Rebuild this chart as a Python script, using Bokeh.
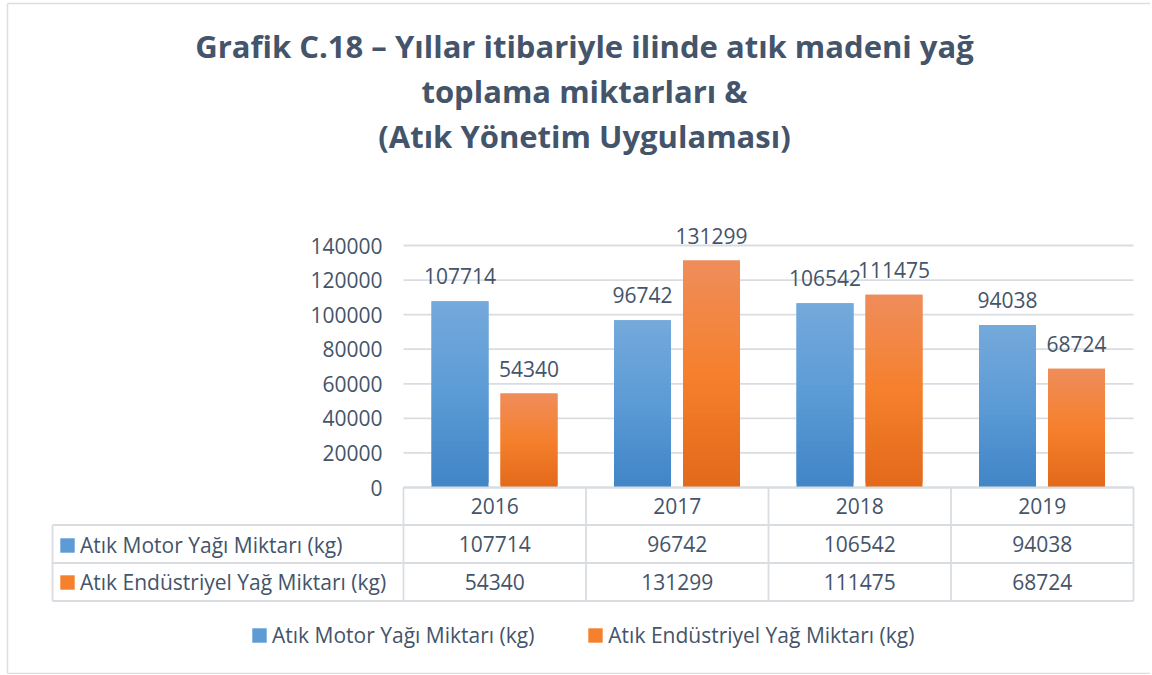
from bokeh.plotting import figure
from bokeh.models import Range1d, ColumnDataSource, Legend, LegendItem
from bokeh.core.properties import value
from bokeh.embed import file_html
from bokeh.resources import INLINE

# ---------------- data ----------------
title_lines = [
    "Grafik C.18 – Yıllar itibariyle ilinde atık madeni yağ",
    "toplama miktarları &",
    "(Atık Yönetim Uygulaması)",
]
years = ["2016", "2017", "2018", "2019"]
series_names = ["Atık Motor Yağı Miktarı (kg)", "Atık Endüstriyel Yağ Miktarı (kg)"]
motor_oil = [107714, 96742, 106542, 94038]
industrial_oil = [54340, 131299, 111475, 68724]
y_ticks = [0, 20000, 40000, 60000, 80000, 100000, 120000, 140000]
y_tick_labels = ["0", "20000", "40000", "60000", "80000", "100000", "120000", "140000"]

# ---------------- layout (page pixels) ----------------
W, H = 1150, 674
OX, OY = 0, 0
PLOT_L, PLOT_R = 403, 1133
PLOT_B, PLOT_T = 487, 245
Y_TOP = 140000
TABLE_L = 52
ROW_EDGES = [487, 524.5, 562.5, 600.5]
TITLE_X = 584
TITLE_CENTERS = [45.5, 90.5, 135]

TXT = "#44546A"
GRID = "#d9dde2"
FONT = value("Open Sans")
FS = "21px"

BLUE = ["#4185c7", "#5b9bd5", "#75a9dc"]     # bottom, middle, top
ORANGE = ["#e2691a", "#f5802c", "#ef8d5b"]

n = len(years)
unit = (PLOT_R - PLOT_L) / n
BAR_W = 57 / unit
BAR_OFF = [28 / unit, 97 / unit]

ppv = (PLOT_B - PLOT_T) / Y_TOP
x_start = (OX - PLOT_L) / unit
x_end = (OX + W - PLOT_L) / unit
y_start = -(OY + H - PLOT_B) / ppv
y_end = (PLOT_B - OY) / ppv

p = figure(width=W, height=H,
           x_range=Range1d(x_start, x_end), y_range=Range1d(y_start, y_end),
           output_backend="svg", toolbar_location=None,
           x_axis_location=None, y_axis_location=None, min_border=0)
p.extra_x_ranges = {"px": Range1d(OX, OX + W)}
p.extra_y_ranges = {"px": Range1d(OY + H, OY)}
p.grid.visible = False
p.outline_line_color = None
p.background_fill_color = "white"
p.border_fill_color = "white"

# outer chart border
p.segment(x0=[7, 7, 7], y0=[3, 3, 673],
          x1=[7, OX + W, OX + W], y1=[673, 3, 673],
          x_range_name="px", y_range_name="px", line_color="#dadee3", line_width=1.5)

# title
p.text(x=[TITLE_X] * len(title_lines), y=TITLE_CENTERS, text=title_lines,
       x_range_name="px", y_range_name="px",
       text_font=FONT, text_font_style="bold", text_font_size="31px",
       text_color=TXT, text_align="center", text_baseline="middle")

# gridlines
p.segment(x0=[0] * len(y_ticks), x1=[n] * len(y_ticks), y0=y_ticks, y1=y_ticks,
          line_color=GRID, line_width=1.8)

# y tick labels
p.text(x=[PLOT_L - 21] * len(y_ticks), y=y_ticks, text=y_tick_labels,
       x_range_name="px", text_font=FONT, text_font_size=FS, text_color=TXT,
       text_align="right", text_baseline="middle")


def mix(c1, c2, t):
    a = [int(c1[i:i + 2], 16) for i in (1, 3, 5)]
    b = [int(c2[i:i + 2], 16) for i in (1, 3, 5)]
    return "#%02x%02x%02x" % tuple(round(a[j] + (b[j] - a[j]) * t) for j in range(3))


def grad(stops, t):
    if t < 0.5:
        return mix(stops[0], stops[1], t / 0.5)
    return mix(stops[1], stops[2], (t - 0.5) / 0.5)


K = 40
renderers = []
for s, (vals, stops) in enumerate([(motor_oil, BLUE), (industrial_oil, ORANGE)]):
    d = dict(left=[], right=[], bottom=[], top=[], color=[])
    for i, v in enumerate(vals):
        for k in range(K):
            d["left"].append(i + BAR_OFF[s])
            d["right"].append(i + BAR_OFF[s] + BAR_W)
            d["bottom"].append(v * k / K)
            d["top"].append(v * min(k + 2, K) / K)
            d["color"].append(grad(stops, (k + 0.5) / K))
    r = p.quad(left="left", right="right", bottom="bottom", top="top",
               fill_color="color", line_color=None, source=ColumnDataSource(d))
    renderers.append(r)
    # data labels
    p.text(x=[i + BAR_OFF[s] + BAR_W / 2 for i in range(n)], y=vals,
           text=[str(v) for v in vals], text_font=FONT, text_font_size=FS,
           text_color=TXT, text_align="center", text_baseline="middle",
           y_offset=-25)

# data table lines
p.segment(x0=[PLOT_L, TABLE_L, TABLE_L, TABLE_L],
          x1=[PLOT_R] * 4,
          y0=ROW_EDGES, y1=ROW_EDGES,
          x_range_name="px", y_range_name="px", line_color=GRID, line_width=1.8)
p.segment(x0=list(range(n + 1)), x1=list(range(n + 1)),
          y0=[ROW_EDGES[0]] * (n + 1), y1=[ROW_EDGES[-1]] * (n + 1),
          y_range_name="px", line_color=GRID, line_width=1.8)
p.segment(x0=[TABLE_L], x1=[TABLE_L], y0=[ROW_EDGES[1]], y1=[ROW_EDGES[-1]],
          x_range_name="px", y_range_name="px", line_color=GRID, line_width=1.8)

# data table cell texts
rows = [years, [str(v) for v in motor_oil], [str(v) for v in industrial_oil]]
for ri, row in enumerate(rows):
    yc = (ROW_EDGES[ri] + ROW_EDGES[ri + 1]) / 2
    p.text(x=[i + 0.5 for i in range(n)], y=[yc] * n, text=row,
           y_range_name="px", text_font=FONT, text_font_size=FS, text_color=TXT,
           text_align="center", text_baseline="middle")

legend_style = dict(border_line_color=None, background_fill_alpha=0, padding=0, margin=0,
                    label_text_font="Open Sans", label_text_font_size=FS,
                    label_text_color=TXT, glyph_width=18, glyph_height=18,
                    label_standoff=4)

# legend keys inside the data table
table_legend = Legend(items=[LegendItem(label=series_names[j], renderers=[renderers[j]], index=K // 2)
                             for j in range(2)],
                      orientation="vertical", spacing=9,
                      location=(58, OY + H - 595.5), **legend_style)
p.add_layout(table_legend)

# bottom legend
bottom_legend = Legend(items=[LegendItem(label=series_names[j], renderers=[renderers[j]], index=K // 2)
                              for j in range(2)],
                       orientation="horizontal", spacing=52,
                       location=(250, OY + H - 649), **legend_style)
p.add_layout(bottom_legend)

open("out.html", "w").write(file_html(p, INLINE))
